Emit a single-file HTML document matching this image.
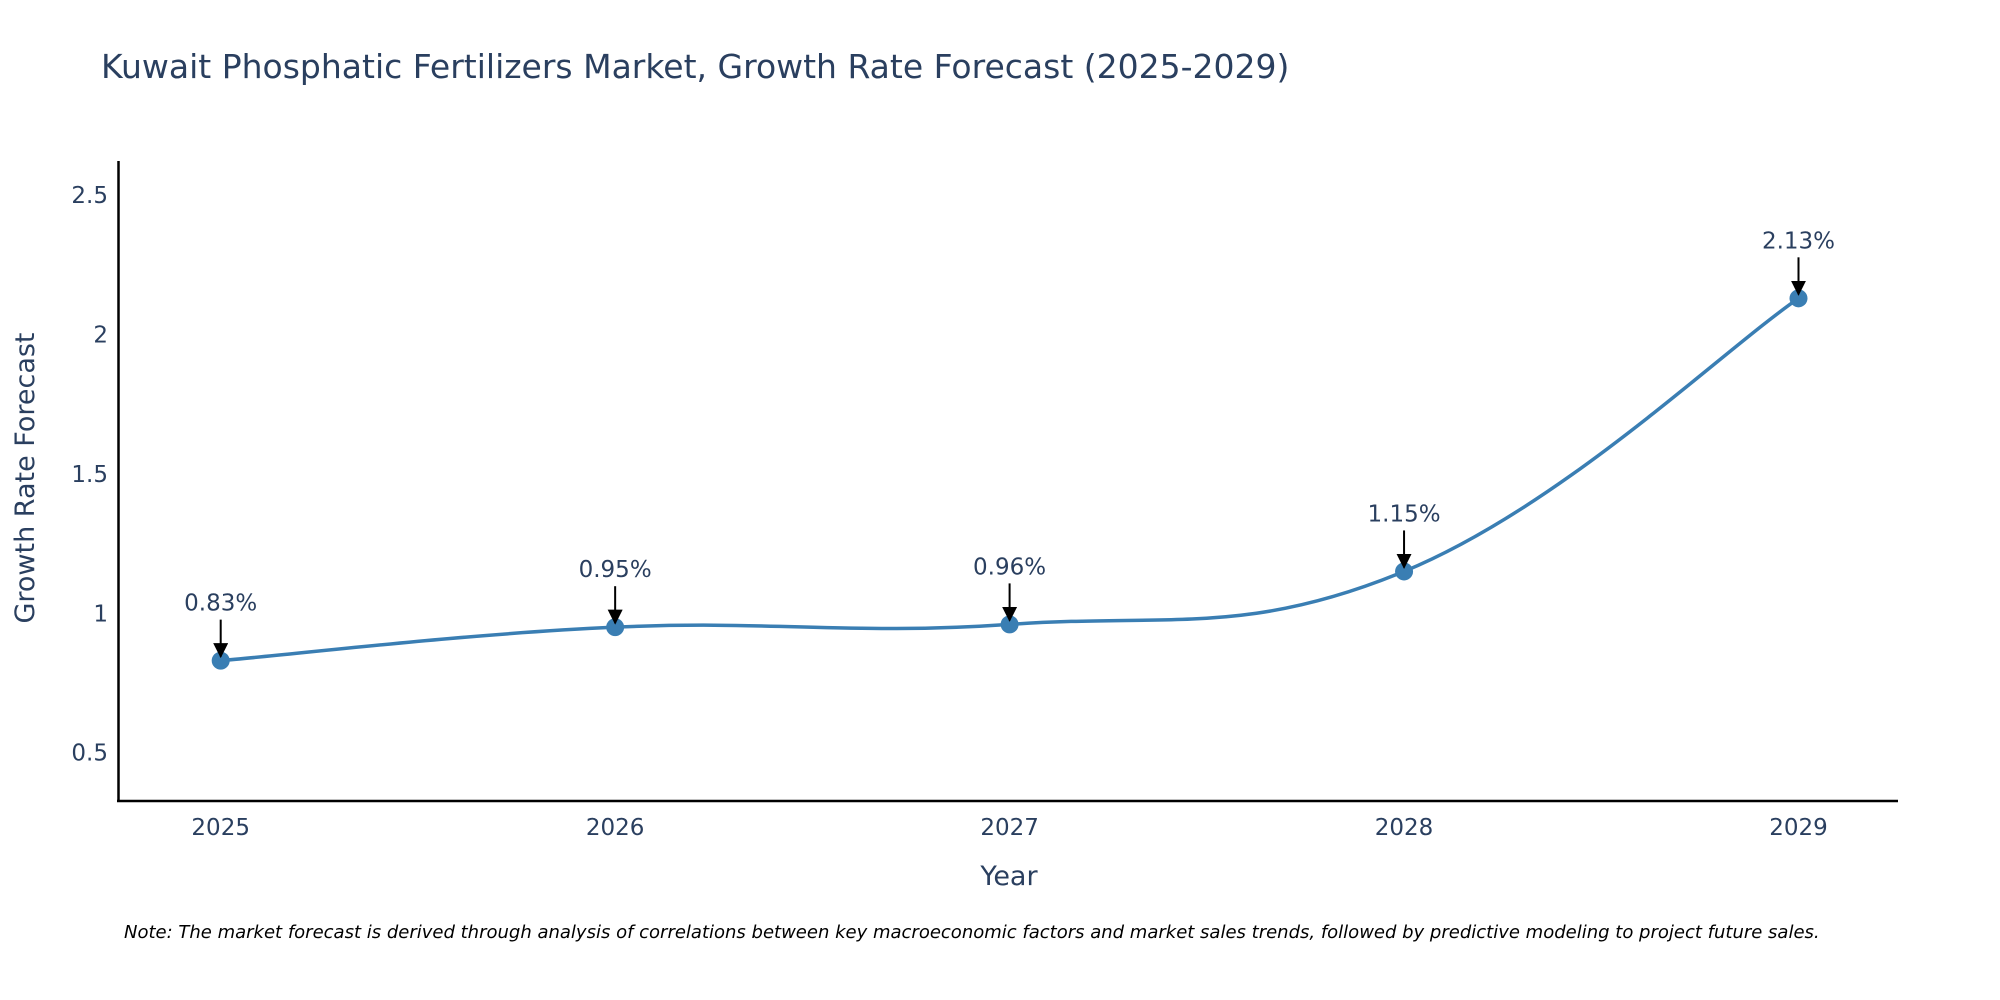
<!DOCTYPE html>
<html><head><meta charset="utf-8"><style>
html,body{margin:0;padding:0;background:#fff;width:2000px;height:1000px;overflow:hidden}
text{font-family:"DejaVu Sans","Liberation Sans",sans-serif;fill:#2a3f5f}
</style></head><body>
<svg width="2000" height="1000">
<defs><marker id="ah" viewBox="0 0 10 10" refX="9" refY="5" markerWidth="7" markerHeight="7" markerUnits="userSpaceOnUse" orient="auto"><path d="M0,0L10,5L0,10z" fill="#000"/></marker>
<marker id="ah2" viewBox="0 0 10 10" refX="9" refY="5" markerWidth="15" markerHeight="15" markerUnits="userSpaceOnUse" orient="auto"><path d="M0,0L10,5L0,10z" fill="#000"/></marker></defs>
<text x="101" y="78" font-size="33">Kuwait Phosphatic Fertilizers Market, Growth Rate Forecast (2025-2029)</text>
<g id="plot"></g>
<line x1="118.5" y1="161" x2="118.5" y2="802" stroke="#000" stroke-width="2.5"/>
<line x1="117" y1="801" x2="1898" y2="801" stroke="#000" stroke-width="2.5"/>
<text x="1009" y="885" font-size="27" text-anchor="middle">Year</text>
<text transform="translate(34,478) rotate(-90)" font-size="27" text-anchor="middle">Growth Rate Forecast</text>
<text x="124" y="938" font-size="18" font-style="italic" style="fill:#000">Note: The market forecast is derived through analysis of correlations between key macroeconomic factors and market sales trends, followed by predictive modeling to project future sales.</text>
</svg>
<script>
const years=[2025,2026,2027,2028,2029];
const values=[0.83,0.95,0.96,1.15,2.13];
const labels=["0.83%","0.95%","0.96%","1.15%","2.13%"];
const yTicks=[0.5,1,1.5,2,2.5];
const yTickLabels=["0.5","1","1.5","2","2.5"];
const NS="http://www.w3.org/2000/svg";
const g=document.getElementById('plot');
const xs=i=>220.7+(1798.5-220.7)*(years[i]-years[0])/(years[years.length-1]-years[0]);
const yv=v=>752.6-(v-0.5)*(752.6-195.2)/2;
function mk(t,a){const e=document.createElementNS(NS,t);for(const k in a)e.setAttribute(k,a[k]);g.appendChild(e);return e;}
yTicks.forEach((t,i)=>{const e=mk('text',{x:108,y:yv(t)+8,'font-size':23,'text-anchor':'end'});e.textContent=yTickLabels[i];

});
years.forEach((yr,i)=>{const e=mk('text',{x:xs(i),y:835,'font-size':23,'text-anchor':'middle'});e.textContent=yr;

});
const P=values.map((v,i)=>[xs(i),yv(v)]);
let d='M'+P[0][0]+','+P[0][1];const s=0.2;
for(let i=0;i<P.length-1;i++){const p0=P[i-1]||P[i],p1=P[i],p2=P[i+1],p3=P[i+2]||P[i+1];
d+=` C${p1[0]+(p2[0]-p0[0])*s},${p1[1]+(p2[1]-p0[1])*s} ${p2[0]-(p3[0]-p1[0])*s},${p2[1]-(p3[1]-p1[1])*s} ${p2[0]},${p2[1]}`;}
const ln=mk('path',{d:d,fill:'none',stroke:'#3a7eb3','stroke-width':3.5});


P.forEach((p,i)=>{const c=mk('circle',{cx:p[0],cy:p[1],r:9,fill:'#3a7eb3'});


const a=mk('line',{x1:p[0],y1:p[1]-41,x2:p[0],y2:p[1]-4,stroke:'#000','stroke-width':2,'marker-end':'url(#ah2)'});


const t=mk('text',{x:p[0],y:p[1]-50,'font-size':23,'text-anchor':'middle'});t.textContent=labels[i];

});
</script>
</body></html>
